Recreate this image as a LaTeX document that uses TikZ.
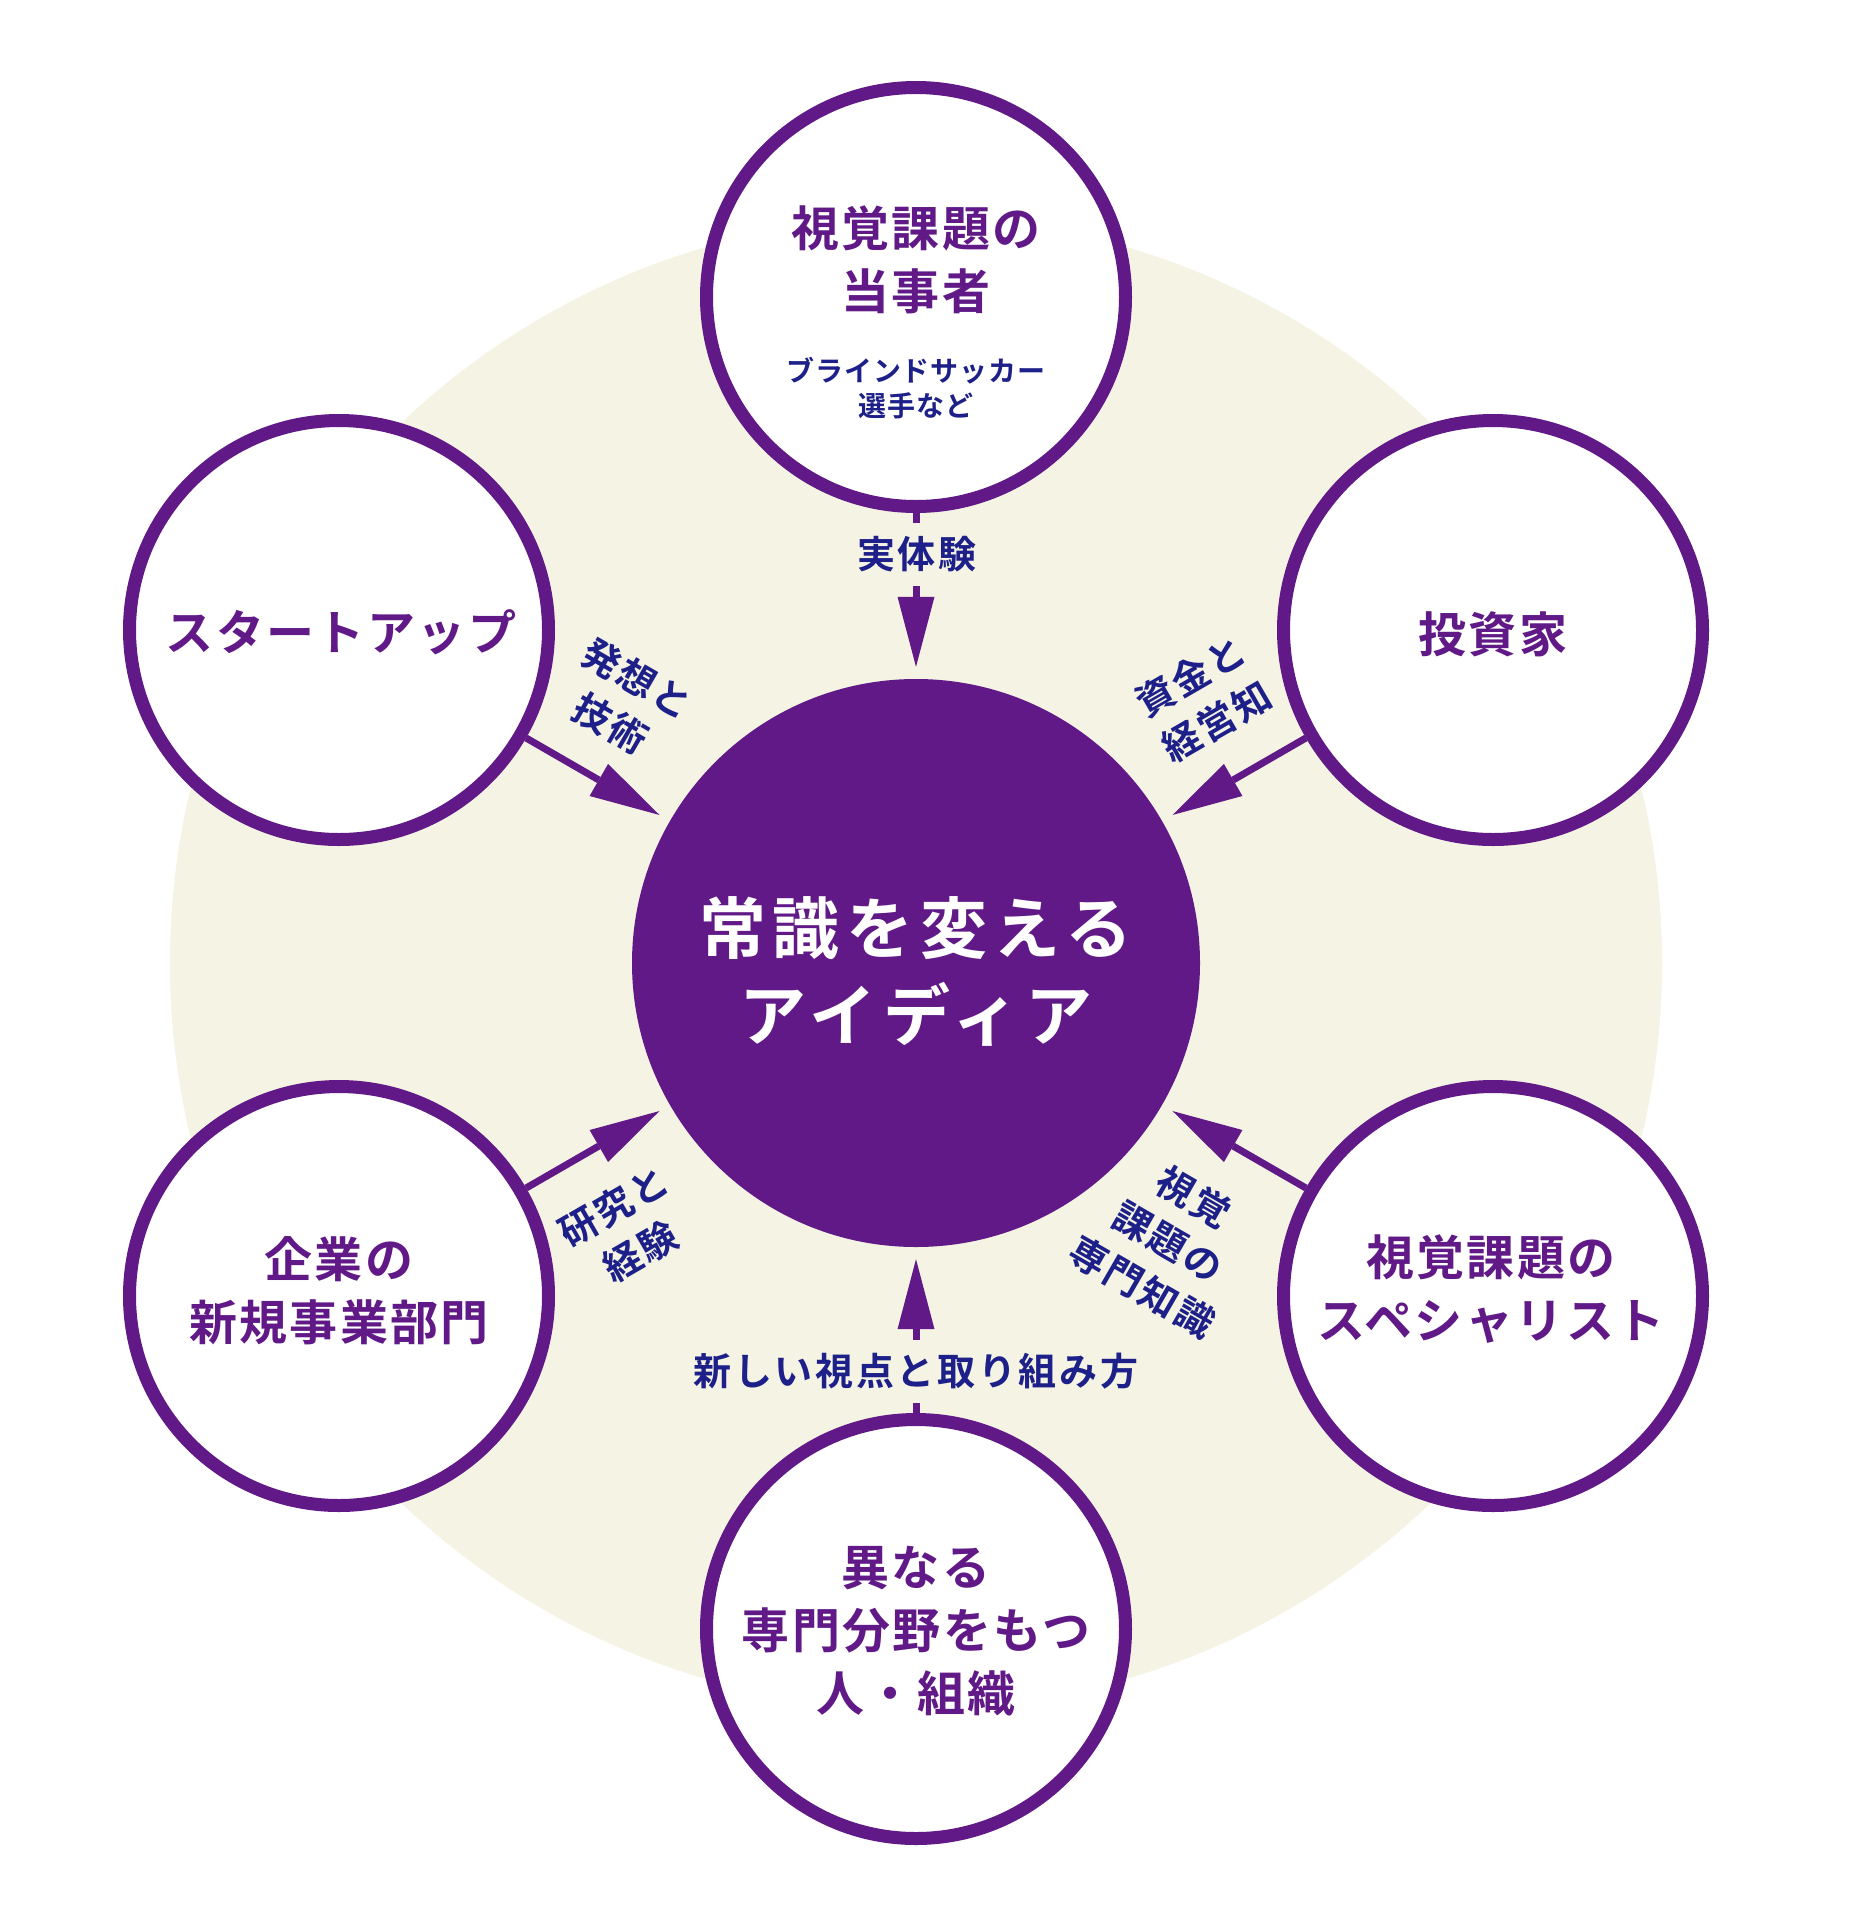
\documentclass[tikz,border=0pt]{standalone}
\usepackage{fontspec}
\newfontfamily\jpb{Noto Sans CJK JP}[UprightFont={* Bold}]
\usetikzlibrary{arrows.meta}
\definecolor{pur}{HTML}{601986}
\definecolor{nav}{HTML}{1D2088}
\definecolor{bge}{HTML}{F5F3E4}
\begin{document}
\begin{tikzpicture}[x=1pt,y=-1pt,
  outer/.style={circle, draw=pur, line width=13pt, fill=white, minimum size=419pt, inner sep=0pt},
  core/.style={circle, fill=pur, minimum size=568pt, inner sep=0pt},
  conn/.style={draw=pur, line width=7pt, shorten >=12pt,
    -{Triangle[length=70pt 0 0, width=37pt 0 0, line width=0pt 0 0]}},
  title/.style={text=pur, align=center, inner sep=0pt,
    font=\jpb\fontsize{48}{63}\selectfont\addfontfeatures{LetterSpace=5}},
  sub/.style={text=nav, align=center, inner sep=0pt,
    font=\jpb\fontsize{28}{35}\selectfont\addfontfeatures{LetterSpace=3}},
  coretext/.style={text=white, align=center, inner sep=0pt,
    font=\jpb\fontsize{67}{87}\selectfont\addfontfeatures{LetterSpace=10}},
  elab/.style={text=nav, align=center, inner sep=0pt,
    font=\jpb\fontsize{38}{52}\selectfont\addfontfeatures{LetterSpace=7}},
  cutlab/.style={elab, fill=bge, inner xsep=4pt, minimum height=63pt}
]
\useasboundingbox (0,0) rectangle (1863,1911);
\fill[white] (0,0) rectangle (1863,1911);
\fill[bge] (916,963) circle[radius=746];

\node[outer] (t)  at (916,297)  {};
\node[outer] (tr) at (1493,630) {};
\node[outer] (br) at (1493,1296) {};
\node[outer] (b)  at (916,1629) {};
\node[outer] (bl) at (339,1296) {};
\node[outer] (tl) at (339,630)  {};
\node[core] (c) at (916,963) {};

\draw[conn] (t)  -- (c);
\draw[conn] (tr) -- (c);
\draw[conn] (br) -- (c);
\draw[conn] (b)  -- (c);
\draw[conn] (bl) -- (c);
\draw[conn] (tl) -- (c);

\node[coretext] (ctext) at (916,971) {常識を変える\\アイディア};

\node[title] (ttitle) at (916,260) {視覚課題の\\当事者};
\node[sub] (tsub) at (916,388) {ブラインドサッカー\\選手など};
\node[title] (trtext) at (1493,634) {投資家};
\node[title] (brtext) at (1491,1289) {視覚課題の\\スペシャリスト};
\node[title] (btext) at (916,1631) {異なる\\専門分野をもつ\\人・組織};
\node[title] (bltext) at (339,1291) {企業の\\新規事業部門};
\node[title] (tltext) at (341,632) {スタートアップ};

\node[cutlab] (lt) at (917,554) {実体験};
\node[cutlab] (lb) at (916,1371) {新しい視点と取り組み方};
\node[elab, rotate=-30] (ltl) at (624,701) {発想と\\技術};
\node[elab, rotate=30] (ltr) at (1204,699) {資金と\\経営知};
\node[elab, rotate=30] (lbl) at (627,1229) {研究と\\経験};
\node[elab, rotate=-30] (lbr) at (1168,1242) {視覚\\課題の\\専門知識};
\end{tikzpicture}
\end{document}
